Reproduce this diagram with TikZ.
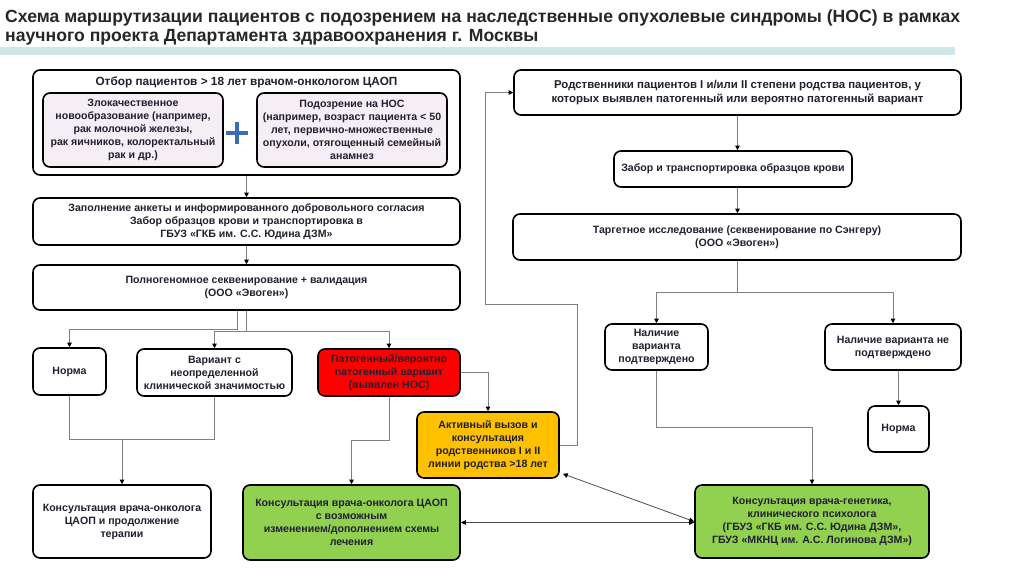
\documentclass[tikz,border=0pt]{standalone}
\usepackage{fontspec}
\setmainfont{Liberation Sans}
\usetikzlibrary{arrows.meta}
\definecolor{txt}{HTML}{202030}
\definecolor{conn}{HTML}{808080}
\definecolor{teal}{HTML}{CFE7E8}
\definecolor{pinkbox}{HTML}{F5EEF5}
\definecolor{redbox}{HTML}{FF0000}
\definecolor{orangebox}{HTML}{FFC000}
\definecolor{greenbox}{HTML}{92D050}
\definecolor{plusblue}{HTML}{3A6DB3}
\tikzset{
  box/.style={draw=black, line width=1.6pt, rounded corners=7pt, fill=white,
    align=center, inner sep=2pt, text=txt,
    font=\fontsize{10.6}{13}\selectfont\bfseries},
  inbox/.style={box, fill=pinkbox},
  bigtxt/.style={font=\fontsize{11.8}{14}\selectfont\bfseries},
  reltxt/.style={font=\fontsize{11.4}{14.5}\selectfont\bfseries},
  conn/.style={draw=conn, line width=0.8pt, -{Triangle[length=4.5pt,width=4.5pt,color=black]}},
  plain/.style={draw=conn, line width=0.8pt},
  both/.style={draw=black!70, line width=0.8pt, {Triangle[length=5pt,width=4.5pt,color=black]}-{Triangle[length=5pt,width=4.5pt,color=black]}},
  ttl/.style={anchor=base west, inner sep=0pt, text=black!85,
    font=\fontsize{17.6}{19}\selectfont\bfseries}
}
\begin{document}
\begin{tikzpicture}[x=1pt,y=-1pt]
\useasboundingbox (0,0) rectangle (1024,579);
% title
\fill[teal] (0,46.5) rectangle (955,55);
\node[ttl] (title1) at (5,22.5) {Схема маршрутизации пациентов с подозрением на наследственные опухолевые синдромы (НОС) в рамках};
\node[ttl] (title2) at (5,41.5) {научного проекта Департамента здравоохранения г. Москвы};

% left column
\node[box, minimum width=427pt, minimum height=105pt] (outer1) at (246.5,122.5) {};
\node[text=txt, bigtxt, inner sep=0pt] (t1) at (246.5,82) {Отбор пациентов > 18 лет врачом-онкологом ЦАОП};
\node[inbox, minimum width=180pt, minimum height=74pt] (inL) at (133,130)
  {Злокачественное\\новообразование (например,\\рак молочной железы,\\рак яичников, колоректальный\\рак и др.)};
\node[inbox, minimum width=190pt, minimum height=74pt] (inR) at (352,130)
  {Подозрение на НОС\\(например, возраст пациента < 50\\лет, первично-множественные\\опухоли, отягощенный семейный\\анамнез};
\node[minimum size=22pt, inner sep=0pt,
  path picture={\draw[plusblue, line width=4pt]
    (path picture bounding box.north) -- (path picture bounding box.south);
    \draw[plusblue, line width=4pt]
    (path picture bounding box.west) -- (path picture bounding box.east);}] (plus) at (237,133) {};

\node[box, minimum width=427pt, minimum height=47pt] (box2) at (246.5,221.5)
  {Заполнение анкеты и информированного добровольного согласия\\Забор образцов крови и транспортировка в\\ГБУЗ «ГКБ им. С.С. Юдина ДЗМ»};
\node[box, minimum width=427pt, minimum height=45pt] (box3) at (246.5,287.5)
  {Полногеномное секвенирование + валидация\\(ООО «Эвоген»)};

\node[box, minimum width=73pt, minimum height=47pt] (norma1) at (69.5,371.5) {Норма};
\node[box, minimum width=155pt, minimum height=47pt] (variant) at (214.5,372.5)
  {Вариант с\\неопределенной\\клинической значимостью};
\node[box, fill=redbox, minimum width=142pt, minimum height=47pt] (patho) at (389,372.5)
  {Патогенный/вероятно\\патогенный вариант\\(выявлен НОС)};
\node[box, fill=orangebox, minimum width=142pt, minimum height=66pt] (orange) at (488,445)
  {Активный вызов и\\консультация\\родственников I и II\\линии родства >18 лет};
\node[box, minimum width=178pt, minimum height=73pt] (consL) at (122,521.5)
  {Консультация врача-онколога\\ЦАОП и продолжение\\терапии};
\node[box, fill=greenbox, minimum width=217pt, minimum height=75pt] (greenL) at (351.5,522.5)
  {Консультация врача-онколога ЦАОП\\с возможным\\изменением/дополнением схемы\\лечения};

% right column
\node[box, reltxt, minimum width=447pt, minimum height=45pt] (rel) at (737.5,92.5)
  {Родственники пациентов I и/или II степени родства пациентов, у\\которых выявлен патогенный или вероятно патогенный вариант};
\node[box, minimum width=238pt, minimum height=36pt] (zabor) at (733,169)
  {Забор и транспортировка образцов крови};
\node[box, minimum width=448pt, minimum height=46pt] (target) at (737,237)
  {Таргетное исследование (секвенирование по Сэнгеру)\\(ООО «Эвоген»)};
\node[box, minimum width=103pt, minimum height=46pt] (conf) at (656.5,347)
  {Наличие\\варианта\\подтверждено};
\node[box, minimum width=136pt, minimum height=46pt] (notconf) at (893,347)
  {Наличие варианта не\\подтверждено};
\node[box, minimum width=61pt, minimum height=46pt] (norma2) at (898.5,429) {Норма};
\node[box, fill=greenbox, minimum width=234pt, minimum height=73pt] (greenR) at (812,521.5)
  {Консультация врача-генетика,\\клинического психолога\\(ГБУЗ «ГКБ им. С.С. Юдина ДЗМ»,\\ГБУЗ «МКНЦ им. А.С. Логинова ДЗМ»)};

% connectors left
\draw[conn] (outer1.south) -- (box2.north);
\draw[conn] (box2.south) -- (box3.north);
\draw[conn] ([xshift=-9.3pt]box3.south) -- ++(0,19) -| (norma1.north);
\draw[conn] ([xshift=0.3pt]box3.south) -- ++(0,21) -| (variant.north);
\draw[conn] ([xshift=0.3pt]box3.south) -- ++(0,21) -| (patho.north);
\draw[plain] (norma1.south) -- ++(0,44) coordinate (j1) -| (variant.south);
\draw[conn] (consL.north |- j1) -- (consL.north);
\draw[conn] (patho.south) -- ++(0,44) -| (greenL.north);
\draw[conn] (patho.east) -| (orange.north);
\coordinate (w1) at (577,304);
\coordinate (w2) at (485,304);
\draw[conn] (orange.east) -| (w1) -- (w2) |- (rel.west);

% connectors right
\draw[conn] (rel.south) -- (rel.south |- zabor.north);
\draw[conn] (rel.south |- zabor.south) -- (rel.south |- target.north);
\draw[conn] (target.south) -- ++(0,32) -| (conf.north);
\draw[conn] (target.south) -- ++(0,32) -| (notconf.north);
\draw[conn] (norma2.north |- notconf.south) -- (norma2.north);
\draw[conn] (conf.south) -- ++(0,57) -| (greenR.north);
\draw[both] (greenL.east) -- (greenL.east -| greenR.west);
\draw[both] ([shift={(3,-5)}]orange.south east) -- (greenR.west);
\end{tikzpicture}
\end{document}
